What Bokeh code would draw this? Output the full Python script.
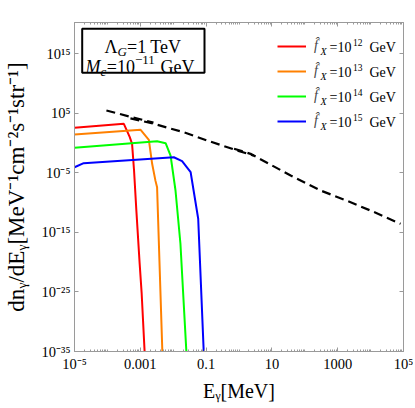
from bokeh.plotting import figure
from bokeh.models import (FixedTicker, CustomJSTickFormatter, LogAxis, Legend,
                          LegendItem, Label, BoxAnnotation, Range1d)
from bokeh.embed import file_html
from bokeh.resources import INLINE

# ---------------- data (log10 values) ----------------
red_logE = [-5.0, -3.50, -3.32, -3.25, -3.19, -3.12, -3.02, -2.96, -2.86]
red_logF = [2.57, 3.24, 1.00, -0.12, -4.6, -11.3, -20.2, -25.1, -36.0]

orange_logE = [-5.0, -2.99, -2.74, -2.64, -2.54, -2.49, -2.324]
orange_logF = [1.45, 2.24, 0.56, -3.47, -6.3, -7.4, -36.0]

green_logE = [-5.0, -2.49, -2.23, -2.08, -1.93, -1.78, -1.59]
green_logF = [-0.79, 0.32, -0.01, -2.08, -7.96, -16.9, -36.0]

blue_logE = [-5.0, -4.72, -1.98, -1.73, -1.47, -1.24, -1.065]
blue_logF = [-4.05, -3.37, -2.37, -3.04, -4.89, -12.7, -36.0]

# observed background (three overlapping dashed pieces)
bgA_logE = [-4.03, -3.25, -2.60]
bgA_logF = [5.48, 4.35, 3.45]
bgB_logE = [-3.30, -2.69, -1.68, -0.97, -0.055, 0.45]
bgB_logF = [4.15, 3.40, 1.83, 0.44, -1.24, -2.10]
bgC_logE = [-0.15, 0.35, 1.57, 2.48, 3.27, 4.00, 4.91]
bgC_logF = [-0.95, -1.80, -5.44, -7.96, -9.65, -11.33, -13.55]

x_ticks = [1e-5, 1e-3, 1e-1, 1e1, 1e3, 1e5]
x_tick_labels = ["10\u207b\u2075", "0.001", "0.1", "10", "1000", "10\u2075"]
y_ticks = [1e-35, 1e-25, 1e-15, 1e-5, 1e5, 1e15]
y_tick_labels = ["10\u207b\u00b3\u2075", "10\u207b\u00b2\u2075", "10\u207b\u00b9\u2075",
                 "10\u207b\u2075", "10\u2075", "10\u00b9\u2075"]
series_exps = ["12", "13", "14", "15"]
series_colors = ["#ff0000", "#ff8000", "#00ff00", "#0000ff"]

FONT = "Liberation Serif"
GRAY = "#9a9a9a"

def tolin(a):
    return [10.0 ** v for v in a]

p = figure(width=413, height=405, x_axis_type="log", y_axis_type="log",
           x_range=Range1d(1e-5, 1e5), y_range=Range1d(1e-35, 10 ** 20.26),
           output_backend="svg", toolbar_location=None,
           min_border_left=74, min_border_right=10, min_border_top=22,
           min_border_bottom=54)
p.grid.visible = False
p.outline_line_color = GRAY
p.outline_line_width = 1
p.background_fill_color = "white"
p.border_fill_color = "white"

xaxis = p.xaxis[0]
yaxis = p.yaxis[0]

minor_x = [k * 10.0 ** n for n in range(-5, 5) for k in range(2, 10)] + \
          [10.0 ** n for n in (-4, -2, 0, 2, 4)]

def style_axis(ax, ticks, minor, labels, show):
    ax.ticker = FixedTicker(ticks=ticks, minor_ticks=minor)
    if show:
        ax.formatter = CustomJSTickFormatter(args=dict(tvals=ticks, tlabels=labels), code="""
            for (let i = 0; i < tvals.length; i++) {
                if (Math.abs(Math.log10(tick) - Math.log10(tvals[i])) < 1e-6) return tlabels[i];
            }
            return "";
        """)
    else:
        ax.formatter = CustomJSTickFormatter(code="return '';")
    ax.axis_line_color = GRAY
    ax.major_tick_line_color = GRAY
    ax.minor_tick_line_color = GRAY
    ax.major_tick_in = 4
    ax.major_tick_out = 0
    ax.minor_tick_in = 2
    ax.minor_tick_out = 0
    ax.major_label_text_font = FONT
    ax.major_label_text_font_size = "14.5px"
    ax.major_label_text_color = "black"
    ax.major_label_standoff = 4

style_axis(xaxis, x_ticks, minor_x, x_tick_labels, True)
style_axis(yaxis, y_ticks, [], y_tick_labels, True)
top = LogAxis()
right = LogAxis()
style_axis(top, x_ticks, minor_x, x_tick_labels, False)
style_axis(right, y_ticks, [], y_tick_labels, False)
top.major_label_standoff = 0
right.major_label_standoff = 0
p.add_layout(top, "above")
p.add_layout(right, "right")

xaxis.axis_label = "E\u1d67[MeV]"
yaxis.axis_label = "dn\u1d67/dE\u1d67[MeV\u207b\u00b9cm\u207b\u00b2s\u207b\u00b9str\u207b\u00b9]"
xaxis.axis_label_text_font_size = "20px"
yaxis.axis_label_text_font_size = "23px"
for ax in (xaxis, yaxis):
    ax.axis_label_text_font = FONT
    ax.axis_label_text_font_style = "normal"
    ax.axis_label_text_color = "black"
xaxis.axis_label_standoff = 5
yaxis.axis_label_standoff = 10

# background dashed
for le, lf in ((bgA_logE, bgA_logF), (bgB_logE, bgB_logF), (bgC_logE, bgC_logF)):
    p.line(tolin(le), tolin(lf), line_color="black", line_width=2.2, line_dash="9 5")

renderers = []
for le, lf, c in ((red_logE, red_logF, series_colors[0]),
                  (orange_logE, orange_logF, series_colors[1]),
                  (green_logE, green_logF, series_colors[2]),
                  (blue_logE, blue_logF, series_colors[3])):
    renderers.append(p.line(tolin(le), tolin(lf), line_color=c, line_width=2))

# legend: line samples + first piece of text, rest composed with labels
items = [LegendItem(label="f\u0302", renderers=[r]) for r in renderers]
legend = Legend(items=items, location=(203, 220), orientation="vertical",
                glyph_width=29, glyph_height=20, label_height=20, spacing=5,
                label_standoff=8, padding=0, margin=0,
                border_line_alpha=0, background_fill_alpha=0,
                label_text_font=FONT, label_text_font_size="14px",
                label_text_font_style="italic")
p.add_layout(legend)

centers = [304.3, 279.3, 254.3, 229.3]
for cy, ex in zip(centers, series_exps):
    p.add_layout(Label(x=246, y=cy - 4, x_units="screen", y_units="screen", text="X",
                       text_font=FONT, text_font_size="10px", text_font_style="italic",
                       text_baseline="middle", text_align="left", text_color="black"))
    p.add_layout(Label(x=255, y=cy, x_units="screen", y_units="screen", text="=10",
                       text_font=FONT, text_font_size="14px",
                       text_baseline="middle", text_align="left", text_color="black"))
    p.add_layout(Label(x=278.5, y=cy + 5, x_units="screen", y_units="screen", text=ex,
                       text_font=FONT, text_font_size="9.5px",
                       text_baseline="middle", text_align="left", text_color="black"))
    p.add_layout(Label(x=295, y=cy, x_units="screen", y_units="screen", text="GeV",
                       text_font=FONT, text_font_size="14px",
                       text_baseline="middle", text_align="left", text_color="black"))

# parameter box
p.add_layout(BoxAnnotation(left=7.7, right=130, top=322.7, bottom=278.7,
                           left_units="screen", right_units="screen",
                           top_units="screen", bottom_units="screen",
                           fill_alpha=0, line_color="black", line_alpha=1.0,
                           line_width=2))

def lab(x, y, t, size, style="normal"):
    p.add_layout(Label(x=x, y=y, x_units="screen", y_units="screen", text=t,
                       text_font=FONT, text_font_size=size, text_font_style=style,
                       text_baseline="alphabetic", text_align="left", text_color="black"))

lab(30, 304.3, "\u039b", "18px")
lab(43, 300.3, "G", "13px", "italic")
lab(52.5, 304.3, "=1 TeV", "18px")
lab(11, 284.3, "M", "18px", "italic")
lab(26, 280.3, "c", "13px", "italic")
lab(32.3, 284.3, "=10", "18px")
lab(60.5, 291.3, "\u221211", "13px")
lab(86, 284.3, "GeV", "18px")

open("out.html", "w").write(file_html(p, INLINE))
